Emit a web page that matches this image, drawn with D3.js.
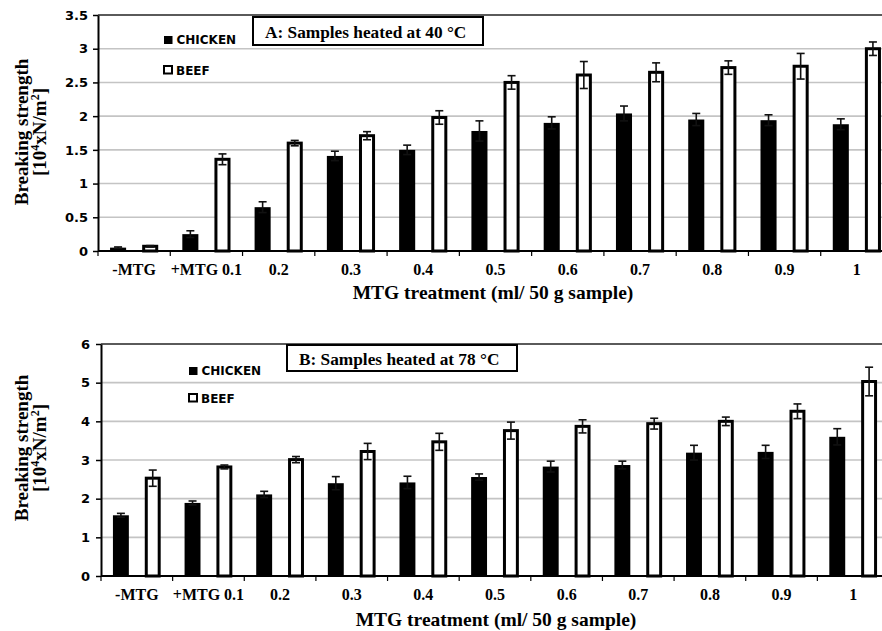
<!DOCTYPE html>
<html><head><meta charset="utf-8">
<script src="https://cdn.jsdelivr.net/npm/d3@7"></script>
<style>
body{margin:0;background:#fff;}
svg{display:block;}
</style></head>
<body>
<svg id="c" width="882" height="631"></svg>
<script>
// ---------- DATA ----------
const categories = ["-MTG","+MTG 0.1","0.2","0.3","0.4","0.5","0.6","0.7","0.8","0.9","1"];
const seriesNames = ["CHICKEN","BEEF"];

const chickenA    = [0.05,0.25,0.65,1.41,1.50,1.78,1.90,2.04,1.95,1.94,1.88];
const chickenAErr = [0.01,0.05,0.08,0.07,0.07,0.15,0.09,0.11,0.09,0.08,0.08];
const beefA       = [0.07,1.36,1.60,1.71,1.98,2.50,2.61,2.65,2.72,2.74,3.00];
const beefAErr    = [0.01,0.08,0.04,0.06,0.10,0.10,0.20,0.14,0.10,0.19,0.10];

const chickenB    = [1.57,1.89,2.11,2.40,2.42,2.56,2.83,2.87,3.19,3.21,3.60];
const chickenBErr = [0.05,0.05,0.08,0.17,0.16,0.08,0.14,0.10,0.19,0.17,0.21];
const beefB       = [2.53,2.82,3.01,3.22,3.47,3.76,3.87,3.94,4.00,4.26,5.03];
const beefBErr    = [0.21,0.05,0.08,0.21,0.22,0.22,0.17,0.14,0.11,0.19,0.37];

const yTicksA = [0,0.5,1,1.5,2,2.5,3,3.5];
const yTicksB = [0,1,2,3,4,5,6];

const titleA = "A: Samples heated at 40 \u00B0C";
const titleB = "B: Samples heated at 78 \u00B0C";
const xTitle = "MTG treatment (ml/ 50 g sample)";

// ---------- DRAW ----------
const svg = d3.select("#c");
const serif = "'Liberation Serif','Times New Roman',serif";
const sans = "'DejaVu Sans',sans-serif";

function panel(cfg){
  const g = svg.append("g");
  const x = d3.scaleBand().domain(categories).range([cfg.x0, cfg.x1]).padding(0);
  const xs = d3.scaleBand().domain(seriesNames).range([0, x.bandwidth()]).paddingInner(0.5).paddingOuter(0.375);
  const y = d3.scaleLinear().domain([0, cfg.ymax]).range([cfg.yb, cfg.yt]);

  // gridlines
  g.append("g").selectAll("line").data(cfg.yticks.filter(t=>t>0 && t<cfg.ymax)).join("line")
    .attr("x1", cfg.x0).attr("x2", 882).attr("y1", d=>y(d)).attr("y2", d=>y(d))
    .attr("stroke","#c4c4c4").attr("stroke-width",1.6);
  // top border
  g.append("line").attr("x1", cfg.x0).attr("x2", 882).attr("y1", y(cfg.ymax)).attr("y2", y(cfg.ymax))
    .attr("stroke","#5a5a5a").attr("stroke-width",2);

  const data = categories.map((c,i)=>({c, v:[
    {s:"CHICKEN", v:cfg.chicken[i], e:cfg.chickenErr[i]},
    {s:"BEEF", v:cfg.beef[i], e:cfg.beefErr[i]}]}));

  const grp = g.append("g").selectAll("g").data(data).join("g")
    .attr("transform", d=>`translate(${x(d.c)},0)`);
  const bars = grp.selectAll("g").data(d=>d.v).join("g");
  bars.append("rect")
    .attr("x", d=> d.s==="CHICKEN" ? xs(d.s) : xs(d.s)+1.5)
    .attr("width", d=> d.s==="CHICKEN" ? xs.bandwidth() : xs.bandwidth()-3)
    .attr("y", d=>y(d.v))
    .attr("height", d=>y(0)-y(d.v))
    .attr("fill", d=> d.s==="CHICKEN" ? "#000" : "#fff")
    .attr("stroke", d=> d.s==="CHICKEN" ? "none" : "#000")
    .attr("stroke-width", 3);
  // error bars
  const eb = bars.append("g").attr("stroke","#111").attr("stroke-width",1.6);
  eb.append("line").attr("x1", d=>xs(d.s)+xs.bandwidth()/2).attr("x2", d=>xs(d.s)+xs.bandwidth()/2)
    .attr("y1", d=>y(d.v-d.e)).attr("y2", d=>y(d.v+d.e));
  eb.append("line").attr("x1", d=>xs(d.s)+xs.bandwidth()/2-4).attr("x2", d=>xs(d.s)+xs.bandwidth()/2+4)
    .attr("y1", d=>y(d.v+d.e)).attr("y2", d=>y(d.v+d.e));
  eb.append("line").attr("x1", d=>xs(d.s)+xs.bandwidth()/2-4).attr("x2", d=>xs(d.s)+xs.bandwidth()/2+4)
    .attr("y1", d=>y(d.v-d.e)).attr("y2", d=>y(d.v-d.e));

  // y axis
  const ya = g.append("g").attr("transform",`translate(${cfg.x0},0)`)
    .call(d3.axisLeft(y).tickValues(cfg.yticks).tickFormat(d3.format("")).tickSize(5).tickPadding(cfg.ypad).tickSizeOuter(0));
  ya.select(".domain").attr("stroke","#000").attr("stroke-width",2);
  ya.selectAll(".tick line").attr("stroke","#000").attr("stroke-width",1.5);
  ya.selectAll("text").attr("font-family",sans).attr("font-weight","bold").attr("font-size",13).attr("fill","#000");

  // x axis (labels at centres)
  const xa = g.append("g").attr("transform",`translate(0,${cfg.yb})`)
    .call(d3.axisBottom(x).tickSize(0).tickPadding(12.6).tickSizeOuter(0));
  xa.select(".domain").remove();
  xa.selectAll("text").attr("font-family",serif).attr("font-weight","bold").attr("font-size",16).attr("fill","#000");
  // boundary ticks
  const bounds = categories.map(c=>x(c)).concat([cfg.x1]);
  g.append("g").selectAll("line").data(bounds).join("line")
    .attr("x1",d=>d).attr("x2",d=>d).attr("y1",cfg.yb).attr("y2",cfg.yb+5)
    .attr("stroke","#000").attr("stroke-width",1.2);
  g.append("line").attr("x1",cfg.x0).attr("x2",882).attr("y1",cfg.yb).attr("y2",cfg.yb)
    .attr("stroke","#000").attr("stroke-width",2);

  // x title
  g.append("text").attr("x",cfg.xtx).attr("y",cfg.xty).attr("text-anchor","middle")
    .attr("font-family",serif).attr("font-weight","bold").attr("font-size",19.5).text(xTitle);

  // y title
  const yt = g.append("text").attr("transform",`translate(${cfg.ytx},${cfg.ytc}) rotate(-90)`)
    .attr("text-anchor","middle").attr("font-family",serif).attr("font-weight","bold").attr("font-size",19);
  yt.append("tspan").attr("x",0).attr("y",0).text("Breaking strength");
  const l2 = g.append("text").attr("transform",`translate(${cfg.ytx+18},${cfg.ytc}) rotate(-90)`)
    .attr("text-anchor","middle").attr("font-family",serif).attr("font-weight","bold").attr("font-size",19);
  l2.append("tspan").text("[10");
  l2.append("tspan").attr("font-size",12).attr("dy",-7).text("4");
  l2.append("tspan").attr("dy",7).text("xN/m");
  l2.append("tspan").attr("font-size",12).attr("dy",-7).text("2");
  l2.append("tspan").attr("dy",7).text("]");

  // title box
  g.append("rect").attr("x",cfg.box[0]).attr("y",cfg.box[1]).attr("width",cfg.box[2]).attr("height",cfg.box[3])
    .attr("fill","#fff").attr("stroke","#000").attr("stroke-width",2);
  g.append("text").attr("x",cfg.box[0]+12).attr("y",cfg.boxBase)
    .attr("font-family",serif).attr("font-weight","bold").attr("font-size",17.3).text(cfg.title);

  // legend
  const lg = g.append("g");
  lg.append("rect").attr("x",cfg.leg[0]).attr("y",cfg.leg[1]).attr("width",8.5).attr("height",8).attr("fill","#000");
  lg.append("text").attr("x",cfg.leg[0]+12.5).attr("y",cfg.leg[1]+8).attr("font-family",sans).attr("font-weight","bold")
    .attr("font-size",12).text(seriesNames[0]);
  lg.append("rect").attr("x",cfg.leg[2]).attr("y",cfg.leg[3]).attr("width",8).attr("height",7.5)
    .attr("fill","#fff").attr("stroke","#000").attr("stroke-width",2);
  lg.append("text").attr("x",cfg.leg[2]+12).attr("y",cfg.leg[3]+8.5).attr("font-family",sans).attr("font-weight","bold")
    .attr("font-size",12).text(seriesNames[1]);
}

panel({x0:98, x1:893, yb:251, yt:15, ymax:3.5, yticks:yTicksA, ypad:5,
  chicken:chickenA, chickenErr:chickenAErr, beef:beefA, beefErr:beefAErr,
  xtx:493, xty:299, ytx:28, ytc:132,
  box:[253,17,230,28], boxBase:38, title:titleA,
  leg:[164,36,164,66]});

panel({x0:101, x1:889, yb:576, yt:344, ymax:6, yticks:yTicksB, ypad:6,
  chicken:chickenB, chickenErr:chickenBErr, beef:beefB, beefErr:beefBErr,
  xtx:496, xty:626, ytx:28, ytc:448,
  box:[287,345,230,26], boxBase:365, title:titleB,
  leg:[189,367,189,394]});
</script>
</body></html>
